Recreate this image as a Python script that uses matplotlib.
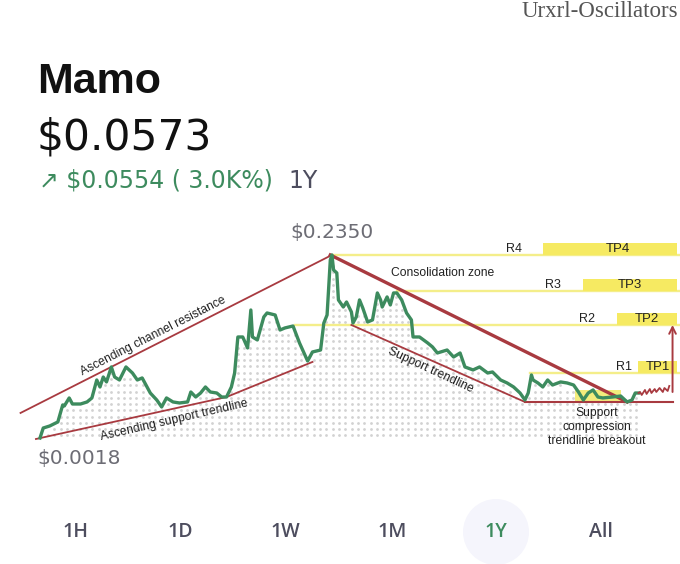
import numpy as np
import matplotlib.pyplot as plt
from matplotlib.patches import Rectangle, Ellipse

W, H = 680, 564

# price trace (day of year, USD)
days = [0, 2, 6, 11, 14, 15, 18, 20, 25, 29,
        32, 35, 37, 39, 41, 44, 46, 49, 53, 57,
        60, 63, 66, 68, 72, 75, 78, 82, 86, 91,
        93, 96, 99, 102, 105, 109, 112, 115, 118, 120,
        122, 125, 128, 130, 131, 134, 138, 140, 145, 148,
        151, 156, 160, 165, 168, 173, 175, 177, 179, 180,
        181, 183, 184, 187, 189, 192, 193, 195, 197, 199,
        202, 205, 208, 210, 211, 214, 216, 218, 220, 223,
        226, 229, 230, 234, 239, 242, 245, 251, 255, 259,
        262, 267, 271, 276, 279, 284, 288, 292, 296, 299,
        301, 303, 304, 307, 310, 313, 316, 321, 325, 329,
        332, 335, 338, 341, 344, 347, 353, 358, 362, 365,
        367, 369]
price = [.0018, .0145, .0171, .0222, .0439, .0426, .0528, .0451, .0451, .0477,
         .0528, .0757, .0668, .0795, .0732, .0923, .0795, .0757, .0923, .0846,
         .0757, .0783, .0668, .0591, .0502, .0413, .0528, .0477, .0464, .0477,
         .0604, .0540, .0591, .0668, .0604, .0591, .0540, .0540, .0668, .0846,
         .1305, .1305, .1165, .1649, .1305, .1267, .1560, .1611, .1585, .1394,
         .1420, .1445, .1229, .0999, .1114, .1139, .1483, .1585, .2286, .2350,
         .2159, .2121, .1777, .1687, .1751, .1624, .1483, .1560, .1777, .1675,
         .1496, .1522, .1866, .1777, .1687, .1815, .1713, .1866, .1866, .1777,
         .1611, .1522, .1305, .1305, .1229, .1178, .1101, .1139, .1050, .1101,
         .0923, .0885, .0923, .0846, .0859, .0757, .0719, .0668, .0591, .0502,
         .0591, .0821, .0757, .0719, .0668, .0757, .0693, .0732, .0719, .0693,
         .0604, .0502, .0591, .0630, .0540, .0528, .0540, .0553, .0477, .0502,
         .0591, .0591]

# projected move after the breakout (red)
proj_days = [369, 370, 371, 373, 374, 376, 377, 379, 380, 382, 384, 385, 387, 388]
proj_price = [.0591, .0604, .0566, .0630, .0579, .0642, .0591, .0642, .0604,
              .0655, .0604, .0655, .0617, .0681]

# resistance levels and take-profit zones
level_names = ['R1', 'R2', 'R3', 'R4']
level_price = [0.0846, 0.1458, 0.1891, 0.2350]
level_start = [302, 157, 220, 180]
level_label_day = [360, 337, 316, 292]
tp_names = ['TP1', 'TP2', 'TP3', 'TP4']
tp_start = [369, 356, 335, 310]
tp_label_day = [381, 374, 364, 356]
tp_height = 0.0150
tp_end = 393

# trendlines
asc_res_days, asc_res_price = [-12, 180], [0.0337, 0.2350]
asc_sup_days, asc_sup_price = [-2.5, 115, 168], [0.0005, 0.0540, 0.0987]
desc_res_days, desc_res_price = [179, 362], [0.2350, 0.0477]
sup_tl_days, sup_tl_price = [192, 299], [0.1458, 0.0477]
base_days, base_price = [299, 390], [0.0477, 0.0477]
squeeze_days, squeeze_price = [330, 358], [0.0477, 0.0630]

buttons = ['1H', '1D', '1W', '1M', '1Y', 'All']
button_x = [75, 180, 285, 392, 496, 601]

GREEN = '#3d8b5e'
RED = '#a83a40'
YELLOW = '#f4ee8a'
BOX = '#f6ea62'
GREY = '#6d6d75'


def px(x, y):
    return x / W, 1 - y / H


fig = plt.figure(figsize=(W / 100, H / 100), dpi=100)
fig.patch.set_facecolor('white')

ax = fig.add_axes([0, 1 - 470 / H, 1, 260 / H])
ax.set_xlim(-24.66, 394.6)
ax.set_ylim(-0.0390, 0.2923)
ax.set_axis_off()

# dotted fill under the price line
gx, gy = np.meshgrid(np.arange(1, 368, 3.9), np.arange(0.005, 0.24, 0.008))
under = gy <= np.interp(gx, days, price) - 0.004
ax.scatter(gx[under], gy[under], s=4, color='#d2d2d2', linewidths=0, zorder=1)

# resistance levels
for name, lp, ls, ld in zip(level_names, level_price, level_start, level_label_day):
    ax.plot([ls, 400], [lp, lp], color=YELLOW, lw=1.7, zorder=2)
    ax.text(ld, lp + 0.0077, name, fontsize=9, ha='center', va='center',
            family='Liberation Sans', color='#222222', zorder=5)
for name, lp, ts, tl in zip(tp_names, level_price, tp_start, tp_label_day):
    ax.add_patch(Rectangle((ts, lp), tp_end - ts, tp_height, facecolor=BOX,
                           edgecolor='none', zorder=2))
    ax.text(tl, lp + tp_height / 2, name, fontsize=9.5, ha='center', va='center',
            family='Liberation Sans', color='#222222', zorder=5)

ax.add_patch(Rectangle((squeeze_days[0], squeeze_price[0]),
                       squeeze_days[1] - squeeze_days[0],
                       squeeze_price[1] - squeeze_price[0],
                       facecolor='#f3ec7c', edgecolor='none', zorder=2))

# trendlines
ax.plot(asc_res_days, asc_res_price, color=RED, lw=1.3, zorder=3)
ax.plot(asc_sup_days, asc_sup_price, color=RED, lw=1.3, zorder=3)
ax.plot(desc_res_days, desc_res_price, color=RED, lw=2.4, zorder=3)
ax.plot(sup_tl_days, sup_tl_price, color=RED, lw=1.3, zorder=3)
ax.plot(base_days, base_price, color=RED, lw=1.5, zorder=3)

# price and projection
ax.plot(days, price, color=GREEN, lw=2.4, solid_joinstyle='round', zorder=4)
ax.plot(proj_days, proj_price, color=RED, lw=1.3, zorder=4)
ax.annotate('', xy=(390, level_price[1]), xytext=(390, 0.0604),
            arrowprops=dict(arrowstyle='->', color=RED, lw=1.4,
                            mutation_scale=12, shrinkA=0, shrinkB=0), zorder=4)

# pattern labels
lab = dict(fontsize=8.7, family='Liberation Sans', color='#222222',
           ha='center', va='center', rotation_mode='anchor', zorder=5)
ax.text(70, 0.1318, 'Ascending channel resistance', rotation=27, **lab)
ax.text(83, 0.0247, 'Ascending support trendline', rotation=13, **lab)
ax.text(241, 0.0885, 'Support trendline', rotation=-25, **lab)
ax.text(248.5, 0.2121, 'Consolidation zone', **lab)
ax.text(343.5, 0.0158, 'Support\ncompression\ntrendline breakout',
        linespacing=1.25, **lab)

# header
fig.text(*px(678, 17), 'Urxrl-Oscillators', ha='right', va='baseline',
         family='Liberation Serif', fontsize=16.5, color='#555555')
fig.text(*px(37, 93), 'Mamo', ha='left', va='baseline', family='Liberation Sans',
         fontweight='bold', fontsize=31, color='#111111')
fig.text(*px(37, 150), '$0.0573', ha='left', va='baseline', family='DejaVu Sans',
         fontsize=30.5, color='#111111')
fig.text(*px(39, 188), '\u2197 $0.0554 ( 3.0K%)', ha='left', va='baseline',
         family='DejaVu Sans', fontsize=17, color=GREEN)
fig.text(*px(288, 188), '1Y', ha='left', va='baseline', family='DejaVu Sans',
         fontsize=17, color='#4d4d5e')
fig.text(*px(290, 238), '$0.2350', ha='left', va='baseline', family='DejaVu Sans',
         fontsize=14.5, color=GREY)
fig.text(*px(37, 464), '$0.0018', ha='left', va='baseline', family='DejaVu Sans',
         fontsize=14.5, color=GREY)

# range buttons
fig.patches.append(Ellipse(px(496, 532), 66 / W, 66 / H, transform=fig.transFigure,
                           facecolor='#f5f5fc', edgecolor='none'))
for b, bx in zip(buttons, button_x):
    fig.text(*px(bx, 532), b, ha='center', va='center', family='Open Sans',
             fontweight='semibold', fontsize=14,
             color=GREEN if b == '1Y' else '#4d4d5e')

fig.savefig('out.png', dpi=100)
